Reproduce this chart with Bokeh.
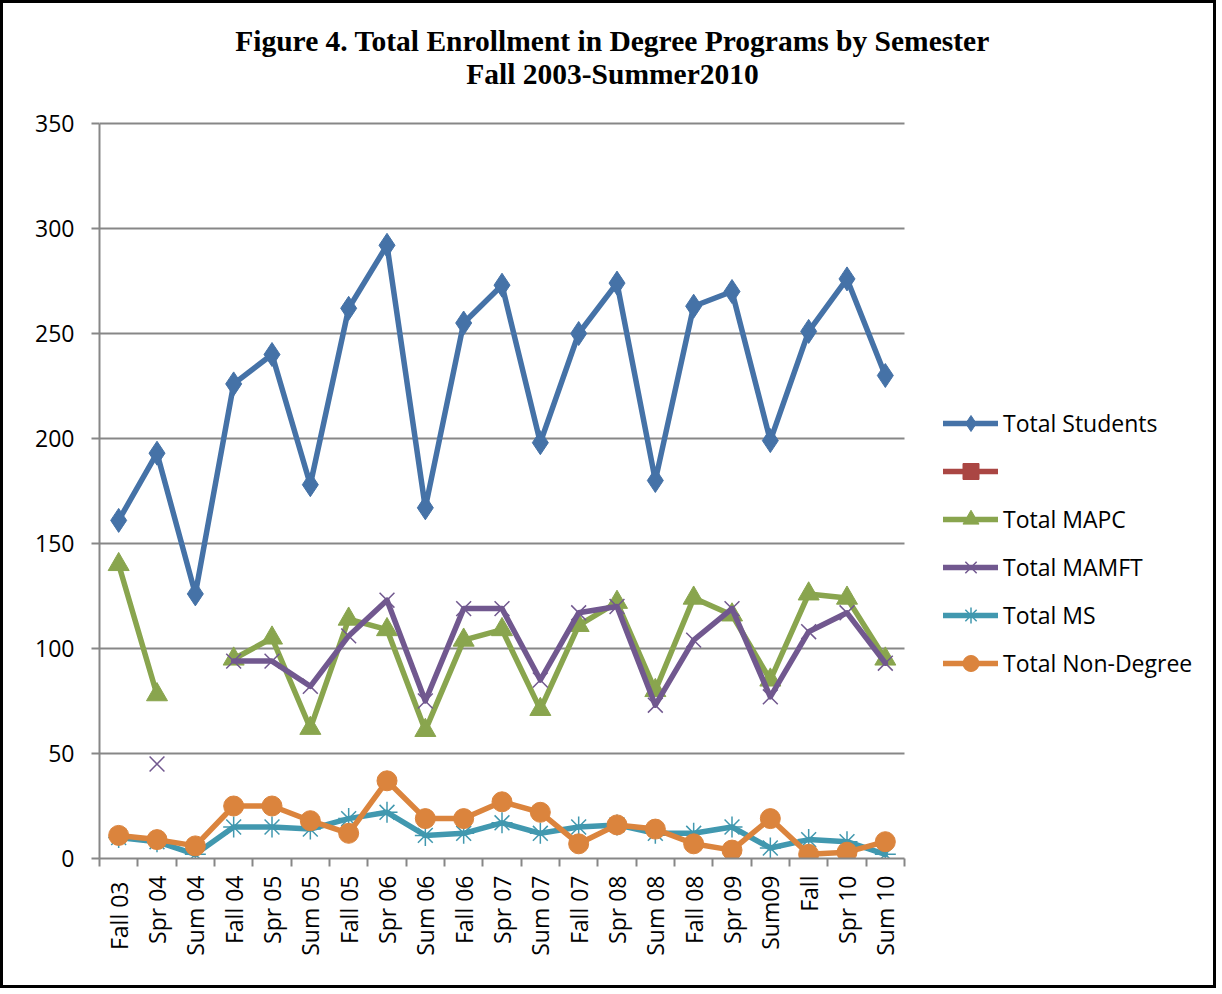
import numpy as np
from bokeh.plotting import figure
from bokeh.models import ColumnDataSource, Range1d, FixedTicker, Legend, LegendItem, Label
from bokeh.embed import file_html
from bokeh.resources import INLINE

# ---------------- data ----------------
semesters = ["Fall  03", "Spr 04", "Sum 04", "Fall 04", "Spr 05", "Sum 05", "Fall 05",
             "Spr 06", "Sum 06", "Fall 06", "Spr 07", "Sum 07", "Fall 07", "Spr 08",
             "Sum 08", "Fall 08", "Spr 09", "Sum09", "Fall", "Spr 10", "Sum 10"]
total_students = [161, 193, 126, 226, 240, 178, 262, 292, 167, 255, 273, 198, 250, 274,
                  180, 263, 270, 199, 251, 276, 230]
unnamed_series = [None, None, None, None, None, None, None, None, None, None, None,
                  None, None, None, None, None, None, None, None, None, None]
total_mapc = [140, 78, None, 95, 105, 62, 114, 109, 61, 104, 109, 71, 111, 122,
              80, 124, 116, 85, 126, 124, 95]
total_mamft = [None, 45, None, 94, 94, 82, 106, 123, 75, 119, 119, 85, 117, 120,
               73, 104, 119, 77, 108, 117, 93]
total_ms = [10, 8, 2, 15, 15, 14, 19, 22, 11, 12, 17, 12, 15, 16, 12, 12, 15, 5, 9, 8, 2]
total_non_degree = [11, 9, 6, 25, 25, 18, 12, 37, 19, 19, 27, 22, 7, 16, 14, 7, 4, 19, 2, 3, 8]

series_names = ["Total Students", "", "Total MAPC", "Total MAMFT", "Total MS", "Total Non-Degree"]
series_values = [total_students, unnamed_series, total_mapc, total_mamft, total_ms, total_non_degree]
series_colors = ["#4572A7", "#AA4643", "#89A54E", "#71588F", "#4198AF", "#DB843D"]
title_lines = ["Figure 4. Total Enrollment in Degree Programs by Semester", "Fall 2003-Summer2010"]
y_ticks = [0, 50, 100, 150, 200, 250, 300, 350]
y_max = 350

# ---------------- layout / styles ----------------
marker_styles = [
    dict(marker="diamond", size=24, line_width=1),
    dict(marker="square", size=14, line_width=1),
    dict(marker="triangle", size=21, line_width=1),
    dict(marker="x", size=21, line_width=1.5),
    dict(marker="asterisk", size=21, line_width=1.5),
    dict(marker="circle", size=20, line_width=1),
]
GRID = "#878787"
FONT = "Open Sans"

W, H = 1216, 988             # canvas (inside a 3px border)
LEFT, BOTTOM = 96, 133       # space for the axes
PLOT_W, PLOT_H = 805, 735    # size of the data area (axes extent)
frame_w, frame_h = W - LEFT, H - BOTTOM

n = len(semesters)
xs = list(range(n))
px_per_cat = PLOT_W / n
px_per_unit = PLOT_H / y_max

p = figure(width=W, height=H, output_backend="svg", toolbar_location=None,
           x_range=Range1d(-0.5, -0.5 + frame_w / px_per_cat),
           y_range=Range1d(0, frame_h / px_per_unit),
           min_border_left=LEFT, min_border_right=0, min_border_top=0, min_border_bottom=BOTTOM)
p.styles = {"border": "3px solid black"}
p.outline_line_color = None
p.background_fill_color = "white"
p.border_fill_color = "white"

# axes
p.xaxis.bounds = (-0.5, n - 0.5)
p.xaxis.ticker = FixedTicker(ticks=xs, minor_ticks=[i - 0.5 for i in range(n + 1)])
p.xaxis.major_label_overrides = {i: s for i, s in enumerate(semesters)}
p.xaxis.major_label_orientation = np.pi / 2
p.xaxis.major_tick_out = 0
p.xaxis.major_tick_in = 0
p.xaxis.minor_tick_out = 8
p.xaxis.minor_tick_in = 0
p.xaxis.minor_tick_line_color = GRID
p.xaxis.minor_tick_line_width = 2
p.xaxis.major_label_standoff = 9

p.yaxis.bounds = (0, y_max)
p.yaxis.ticker = FixedTicker(ticks=y_ticks)
p.yaxis.major_tick_out = 8
p.yaxis.major_tick_in = 0
p.yaxis.minor_tick_out = 0
p.yaxis.minor_tick_in = 0
p.yaxis.major_tick_line_color = GRID
p.yaxis.major_tick_line_width = 2
p.yaxis.major_label_standoff = 17

for ax in (p.xaxis, p.yaxis):
    ax.axis_line_color = GRID
    ax.axis_line_width = 2
    ax.major_label_text_font = FONT
    ax.major_label_text_font_size = "23px"
    ax.major_label_text_color = "black"

p.xgrid.visible = False
yg = p.ygrid[0]
yg.ticker = FixedTicker(ticks=y_ticks)
yg.bounds = (-10, y_max + 10)
yg.grid_line_color = GRID
yg.grid_line_width = 2
if "cross_bounds" in yg.properties():
    yg.cross_bounds = (-0.5, n - 0.5)
else:
    yg.visible = False
    p.segment(x0=-0.5, x1=n - 0.5, y0=y_ticks[1:], y1=y_ticks[1:],
              line_color=GRID, line_width=2)

# series
items = []
for name, vals, color, ms in zip(series_names, series_values, series_colors, marker_styles):
    src = ColumnDataSource(dict(x=xs, y=np.array(vals, dtype=float)))
    lr = p.line("x", "y", source=src, line_color=color, line_width=5.5,
                line_join="round", line_cap="round")
    sr = p.scatter("x", "y", source=src, marker=ms["marker"], size=ms["size"],
                   fill_color=color, line_color=color, line_width=ms["line_width"])
    items.append(LegendItem(label=name, renderers=[lr, sr]))

legend = Legend(items=items, location=(844, 175), glyph_width=55, glyph_height=40,
                label_height=40, spacing=8, label_standoff=5, padding=0, margin=0,
                border_line_color=None, background_fill_alpha=0,
                label_text_font=FONT, label_text_font_size="23px", label_text_color="black")
p.add_layout(legend)

# title (two centered lines)
for txt, yy in zip(title_lines, [818, 785]):
    p.add_layout(Label(x=513, y=yy, x_units="screen", y_units="screen", text=txt,
                       text_align="center", text_baseline="middle",
                       text_font="Liberation Serif", text_font_style="bold",
                       text_font_size="29.5px", text_color="black"))

open("out.html", "w").write(file_html(p, INLINE))
